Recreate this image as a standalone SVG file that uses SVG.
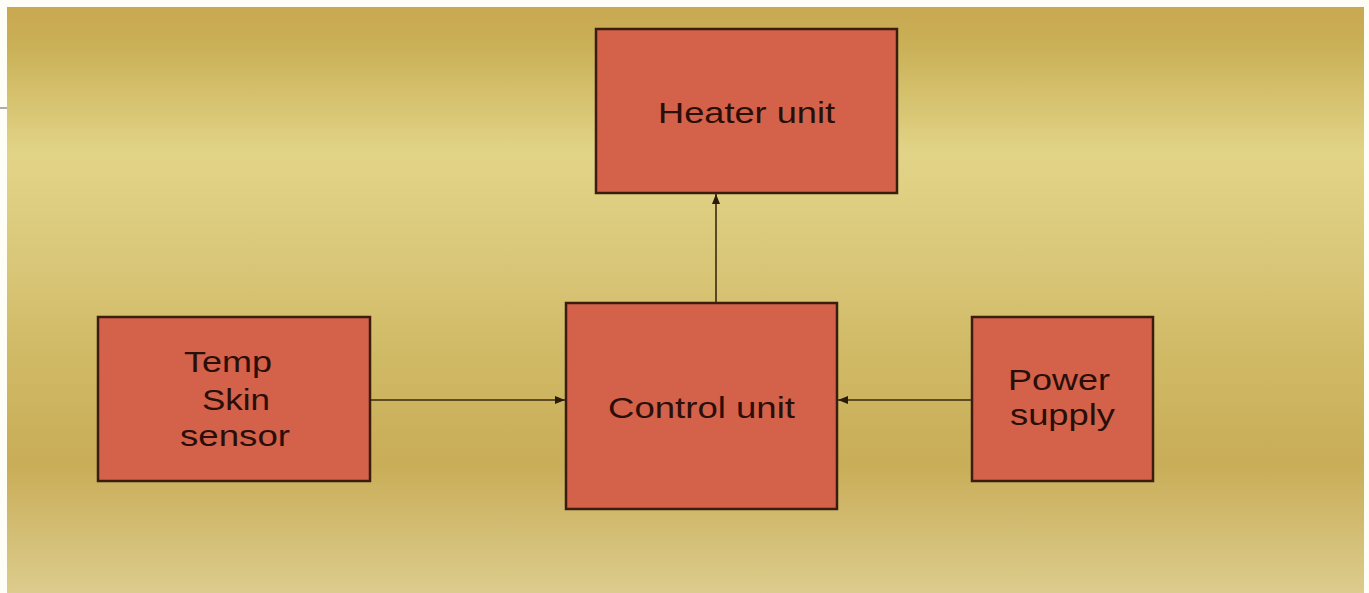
<svg xmlns="http://www.w3.org/2000/svg" width="1369" height="593" viewBox="0 0 1369 593">
<defs>
<linearGradient id="bg" x1="0" y1="0" x2="0" y2="1">
<stop offset="0" stop-color="#c9a852"/>
<stop offset="0.06" stop-color="#c9af56"/>
<stop offset="0.25" stop-color="#e2d487"/>
<stop offset="0.42" stop-color="#dac87a"/>
<stop offset="0.6" stop-color="#d0b965"/>
<stop offset="0.78" stop-color="#c9ad58"/>
<stop offset="1" stop-color="#dccc8d"/>
</linearGradient>
<marker id="ah" viewBox="0 0 10 10" refX="10" refY="5" markerWidth="10" markerHeight="10" markerUnits="userSpaceOnUse" orient="auto">
<path d="M0,1 L10,5 L0,9 Z" fill="#2a1a08"/>
</marker>
</defs>
<style>
.box{fill:#d4614a;stroke:#3b1d10;stroke-width:2.5}
.lbl{font-family:"Liberation Sans",Arial,sans-serif;font-size:29px;fill:#2a0e08}
.conn{stroke:#3a2a0c;stroke-width:1.6;fill:none;marker-end:url(#ah)}
</style>
<rect x="0" y="0" width="1369" height="593" fill="#fefdf6"/>
<rect x="7" y="7" width="1357" height="586" fill="url(#bg)"/>
<line x1="0" y1="108" x2="7" y2="108" stroke="#777" stroke-width="1.2"/>
<g id="connectors">
<line class="conn" x1="371" y1="400" x2="565" y2="400"/>
<line class="conn" x1="971" y1="400" x2="838" y2="400"/>
<line class="conn" x1="716" y1="302" x2="716" y2="194"/>
</g>
<g id="heater">
<rect class="box" x="596" y="29" width="301" height="164"/>
<text class="lbl" x="658" y="123" textLength="177" lengthAdjust="spacingAndGlyphs">Heater unit</text>
</g>
<g id="control">
<rect class="box" x="566" y="303" width="271" height="206"/>
<text class="lbl" x="608" y="418" textLength="187" lengthAdjust="spacingAndGlyphs">Control unit</text>
</g>
<g id="temp">
<rect class="box" x="98" y="317" width="272" height="164"/>
<text class="lbl" x="184" y="372" textLength="88" lengthAdjust="spacingAndGlyphs">Temp</text>
<text class="lbl" x="202" y="410" textLength="68" lengthAdjust="spacingAndGlyphs">Skin</text>
<text class="lbl" x="180" y="446" textLength="110" lengthAdjust="spacingAndGlyphs">sensor</text>
</g>
<g id="power">
<rect class="box" x="972" y="317" width="181" height="164"/>
<text class="lbl" x="1008" y="390" textLength="102" lengthAdjust="spacingAndGlyphs">Power</text>
<text class="lbl" x="1010" y="425" textLength="105" lengthAdjust="spacingAndGlyphs">supply</text>
</g>
</svg>
